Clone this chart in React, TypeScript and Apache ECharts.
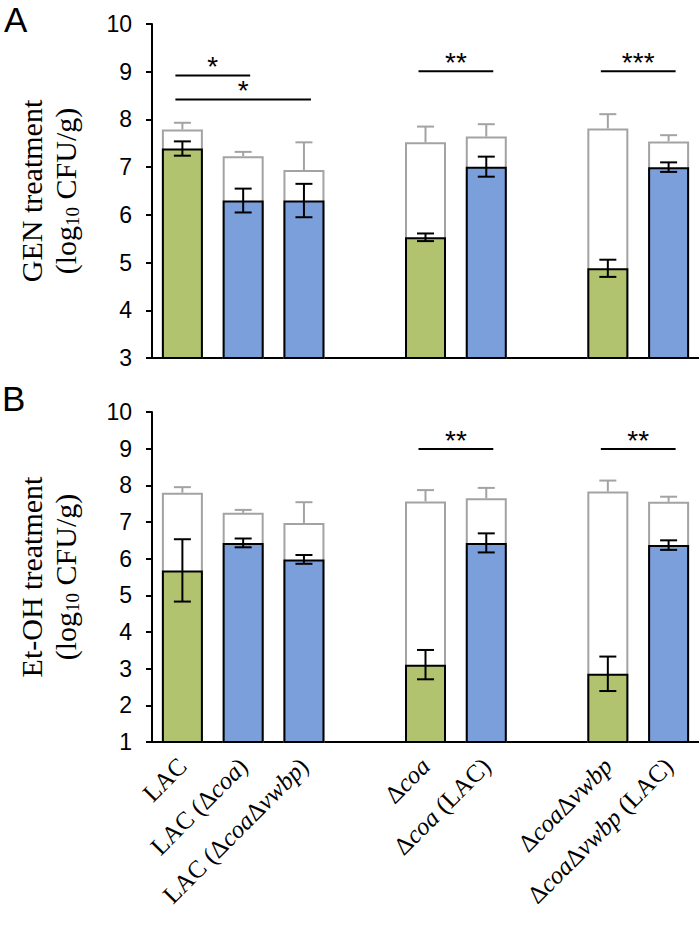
import React, { useEffect, useRef } from "react";
import * as echarts from "echarts";

// ---- data ----
const categories = [
  "LAC",
  "LAC (Δcoa)",
  "LAC (ΔcoaΔvwbp)",
  "",
  "Δcoa",
  "Δcoa (LAC)",
  "",
  "ΔcoaΔvwbp",
  "ΔcoaΔvwbp (LAC)",
];
const yTicksA = [3, 10];
const yTicksB = [1, 10];

// Panel A: GEN treatment
const totalA = [7.79, 7.23, 6.94, null, 7.52, 7.64, null, 7.81, 7.54];
const totalErrA = [0.14, 0.09, 0.58, null, 0.33, 0.26, null, 0.3, 0.13];
const treatedA = [7.39, 6.3, 6.3, null, 5.53, 7.01, null, 4.88, 7.0];
const treatedErrA = [0.15, 0.25, 0.35, null, 0.08, 0.21, null, 0.18, 0.1];
const sigA: [number, number, number, string][] = [
  [0, 1, 8.92, "*"],
  [0, 2, 8.42, "*"],
  [4, 5, 9.01, "**"],
  [7, 8, 9.01, "***"],
];

// Panel B: Et-OH treatment
const totalB = [7.8, 7.25, 6.97, null, 7.56, 7.65, null, 7.83, 7.55];
const totalErrB = [0.15, 0.08, 0.57, null, 0.31, 0.28, null, 0.3, 0.14];
const treatedB = [5.68, 6.43, 5.98, null, 3.11, 6.43, null, 2.86, 6.37];
const treatedErrB = [0.85, 0.12, 0.12, null, 0.4, 0.26, null, 0.47, 0.13];
const sigB: [number, number, number, string][] = [
  [4, 5, 8.99, "**"],
  [7, 8, 8.99, "**"],
];

// ---- styles ----
const GREEN = "#B1C36F";
const BLUE = "#7B9FDA";
const GRAY = "#A3A3A3";
const SERIF = "Liberation Serif";
const SANS = "Liberation Sans";

const isParent = (i: number) => categories[i] !== "" && categories[i].indexOf("(") < 0;

function errSeries(g: number, rows: number[][], color: string, both: boolean) {
  return {
    type: "custom",
    xAxisIndex: g,
    yAxisIndex: g,
    z: 5,
    encode: { x: 0, y: [1, 2] },
    data: rows,
    renderItem: (params: any, api: any) => {
      const d = rows[params.dataIndex];
      const lo = api.coord([d[0], d[1]]);
      const hi = api.coord([d[0], d[2]]);
      const w = 8.5;
      const st = { stroke: color, lineWidth: 2 };
      const children: any[] = [
        { type: "line", shape: { x1: lo[0], y1: lo[1], x2: hi[0], y2: hi[1] }, style: st },
        { type: "line", shape: { x1: hi[0] - w, y1: hi[1], x2: hi[0] + w, y2: hi[1] }, style: st },
      ];
      if (both)
        children.push({ type: "line", shape: { x1: lo[0] - w, y1: lo[1], x2: lo[0] + w, y2: lo[1] }, style: st });
      return { type: "group", children };
    },
  };
}

function sigSeries(g: number, sig: [number, number, number, string][]) {
  return {
    type: "custom",
    xAxisIndex: g,
    yAxisIndex: g,
    z: 6,
    encode: { x: [0, 1], y: 2 },
    data: sig.map((s) => [s[0], s[1], s[2]]),
    renderItem: (params: any, api: any) => {
      const s = sig[params.dataIndex];
      const p1 = api.coord([s[0], s[2]]);
      const p2 = api.coord([s[1], s[2]]);
      return {
        type: "group",
        children: [
          {
            type: "line",
            shape: { x1: p1[0] - 7, y1: p1[1], x2: p2[0] + 7, y2: p1[1] },
            style: { stroke: "#000", lineWidth: 2 },
          },
          {
            type: "text",
            style: {
              text: s[3],
              x: (p1[0] + p2[0]) / 2,
              y: p1[1] - 9,
              align: "center",
              verticalAlign: "middle",
              fontSize: 28,
              fontFamily: SANS,
              fill: "#000",
            },
          },
        ],
      };
    },
  };
}

function panelSeries(
  g: number,
  total: (number | null)[],
  totalErr: (number | null)[],
  treated: (number | null)[],
  treatedErr: (number | null)[],
  sig: [number, number, number, string][]
) {
  const totalRows: number[][] = [];
  const treatedRows: number[][] = [];
  total.forEach((v, i) => {
    if (v != null) totalRows.push([i, v, v + (totalErr[i] as number)]);
  });
  treated.forEach((v, i) => {
    if (v != null) treatedRows.push([i, v - (treatedErr[i] as number), v + (treatedErr[i] as number)]);
  });
  return [
    {
      type: "bar",
      xAxisIndex: g,
      yAxisIndex: g,
      barWidth: 41,
      barGap: "-100%",
      z: 2,
      data: total.map((v) => (v == null ? "-" : v)),
      itemStyle: { color: "#fff", borderColor: GRAY, borderWidth: 2 },
    },
    {
      type: "bar",
      xAxisIndex: g,
      yAxisIndex: g,
      barWidth: 41,
      barGap: "-100%",
      z: 3,
      data: treated.map((v, i) =>
        v == null ? "-" : { value: v, itemStyle: { color: isParent(i) ? GREEN : BLUE } }
      ),
      itemStyle: { borderColor: "#000", borderWidth: 2 },
    },
    errSeries(g, totalRows, GRAY, false),
    errSeries(g, treatedRows, "#000", true),
    sigSeries(g, sig),
  ];
}

function yAxis(g: number, ticks: number[], title: string) {
  return {
    type: "value",
    gridIndex: g,
    min: ticks[0],
    max: ticks[1],
    interval: 1,
    splitLine: { show: false },
    axisLine: { show: true, lineStyle: { color: "#000", width: 2 } },
    axisTick: { show: true, length: 6, lineStyle: { color: "#000", width: 2 } },
    axisLabel: { color: "#000", fontFamily: SANS, fontSize: 23, margin: 20 },
    name: title,
    nameLocation: "middle",
    nameGap: 70,
    nameRotate: 90,
    nameTextStyle: {
      color: "#000",
      fontFamily: SERIF,
      fontSize: 30,
      lineHeight: 34,
      rich: {
        sub: { fontFamily: SERIF, fontSize: 19, lineHeight: 20, verticalAlign: "bottom", color: "#000" },
      },
    },
  };
}

function xAxis(g: number, showLabels: boolean) {
  return {
    type: "category",
    gridIndex: g,
    data: categories,
    axisLine: { show: true, lineStyle: { color: "#000", width: 2 } },
    axisTick: { show: false },
    axisLabel: {
      show: showLabels,
      interval: 0,
      rotate: 45,
      margin: 20,
      color: "#000",
      fontFamily: SERIF,
      fontSize: 25,
      formatter: (v: string) => v.replace(/(coa|vwbp)/g, "{i|$1}"),
      rich: { i: { fontStyle: "italic", fontFamily: SERIF, fontSize: 25, color: "#000" } },
    },
  };
}

export default function App() {
  const ref = useRef<HTMLDivElement>(null);
  useEffect(() => {
    const chart = echarts.init(ref.current!, null, { renderer: "svg" });
    chart.setOption({
      animation: false,
      backgroundColor: "#fff",
      grid: [
        { left: 152, right: 0, top: 24, height: 334 },
        { left: 152, right: 0, top: 412, height: 330 },
      ],
      xAxis: [xAxis(0, false), xAxis(1, true)],
      yAxis: [
        yAxis(0, yTicksA, "GEN treatment\n(log{sub|10} CFU/g)"),
        yAxis(1, yTicksB, "Et-OH treatment\n(log{sub|10} CFU/g)"),
      ],
      graphic: [
        { type: "text", left: 4, top: 2, style: { text: "A", fontSize: 35, fontFamily: SANS, fill: "#000" } },
        { type: "text", left: 2, top: 381, style: { text: "B", fontSize: 35, fontFamily: SANS, fill: "#000" } },
      ],
      series: [
        ...panelSeries(0, totalA, totalErrA, treatedA, treatedErrA, sigA),
        ...panelSeries(1, totalB, totalErrB, treatedB, treatedErrB, sigB),
      ],
    });
    return () => chart.dispose();
  }, []);
  return (
    <div
      ref={ref}
      style={{ position: "absolute", left: 0, top: 0, width: 699, height: 929, background: "#fff" }}
    />
  );
}
